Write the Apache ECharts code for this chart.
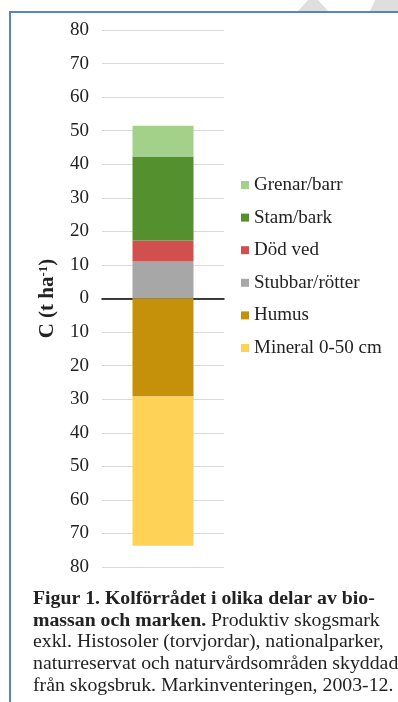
<!DOCTYPE html>
<html>
<head>
<meta charset="utf-8">
<script src="https://cdn.jsdelivr.net/npm/echarts@6/dist/echarts.min.js"></script>
<style>
html, body { margin: 0; padding: 0; background: #fff; }
#chart { width: 398px; height: 702px; }
</style>
</head>
<body>
<div id="chart"></div>
<script>
const categories = ['']
const legendOrder = ['Grenar/barr', 'Stam/bark', 'Död ved', 'Stubbar/rötter', 'Humus', 'Mineral 0-50 cm']

// stacked above zero (bottom to top) and below zero (top to bottom)
const stubbar = [11.0]
const dodVed = [6.3]
const stamBark = [25.0]
const grenarBarr = [9.2]
const humus = [-29.2]
const mineral = [-44.5]

const colors = {
    'Grenar/barr': '#a3d18a',
    'Stam/bark': '#55902f',
    'Död ved': '#d24f4f',
    'Stubbar/rötter': '#a7a7a7',
    'Humus': '#c6910a',
    'Mineral 0-50 cm': '#fdd257'
}

const serif = 'Liberation Serif'

const mkSeries = (name, data) => ({
    name: name,
    type: 'bar',
    stack: 'c',
    barWidth: '50%',
    data: data,
    itemStyle: { color: colors[name] }
})

const chart = echarts.init(document.getElementById('chart'))
const option = {
    animation: false,
    backgroundColor: '#fff',
    grid: { left: 102, right: 174, top: 30, bottom: 135 },
    legend: {
        orient: 'vertical',
        left: 236,
        top: 170,
        data: legendOrder,
        icon: 'rect',
        itemWidth: 8,
        itemHeight: 8,
        itemGap: 12.6,
        textStyle: { fontFamily: serif, fontSize: 19, color: '#222', lineHeight: 20 }
    },
    xAxis: {
        type: 'category',
        data: categories,
        axisLine: { show: true, onZero: true, lineStyle: { color: '#000', width: 1.5 } },
        axisTick: { show: false },
        axisLabel: { show: false }
    },
    yAxis: {
        type: 'value',
        min: -80,
        max: 80,
        interval: 10,
        name: '{a|C (t ha}{s|-1}{a|)}',
        nameLocation: 'middle',
        nameRotate: 90,
        nameGap: 44,
        nameTextStyle: {
            rich: {
                a: { fontFamily: serif, fontSize: 21, fontWeight: 'bold', color: '#222' },
                s: { fontFamily: serif, fontSize: 13, fontWeight: 'bold', color: '#222', verticalAlign: 'top' }
            }
        },
        axisLine: { show: false },
        axisTick: { show: false },
        axisLabel: {
            margin: 13,
            fontFamily: serif,
            fontSize: 19,
            color: '#222',
            formatter: v => String(Math.abs(v))
        },
        splitLine: { lineStyle: { color: '#d9d9d9', width: 1 } }
    },
    series: [
        mkSeries('Stubbar/rötter', stubbar),
        mkSeries('Död ved', dodVed),
        mkSeries('Stam/bark', stamBark),
        mkSeries('Grenar/barr', grenarBarr),
        mkSeries('Humus', humus),
        mkSeries('Mineral 0-50 cm', mineral)
    ],
    graphic: [
        // faint watermark pieces above the frame
        { type: 'polygon', shape: { points: [[298, 11], [328, 11], [318, 0], [308, 0]] }, style: { fill: '#dedede' }, z: 0 },
        { type: 'polygon', shape: { points: [[370, 11], [398, 11], [398, 0], [375, 0]] }, style: { fill: '#dedede' }, z: 0 },
        // frame
        { type: 'line', shape: { x1: 10, y1: 12, x2: 398, y2: 12 }, style: { stroke: '#5a80d2', lineWidth: 2 } },
        { type: 'line', shape: { x1: 10, y1: 11, x2: 10, y2: 702 }, style: { stroke: '#5a80d2', lineWidth: 2 } },
        {
            type: 'text',
            left: 33,
            top: 589,
            style: {
                text: '{b|Figur 1. Kolförrådet i olika delar av bio-}\n' +
                      '{b|massan och marken.}{n| Produktiv skogsmark}\n' +
                      '{n|exkl. Histosoler (torvjordar), nationalparker,}\n' +
                      '{n|naturreservat och naturvårdsområden skyddad}\n' +
                      '{n|från skogsbruk. Markinventeringen, 2003-12.}',
                rich: {
                    b: { fontFamily: serif, fontSize: 19.8, fontWeight: 'bold', fill: '#222', lineHeight: 21.6 },
                    n: { fontFamily: serif, fontSize: 19.8, fill: '#222', lineHeight: 21.6 }
                }
            }
        }
    ]
}
chart.setOption(option)
</script>
</body>
</html>
